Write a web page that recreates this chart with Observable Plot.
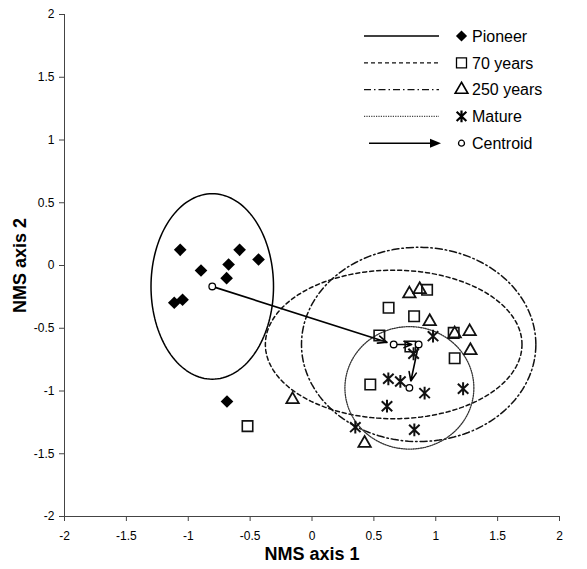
<!DOCTYPE html>
<html><head><meta charset="utf-8">
<script src="https://cdn.jsdelivr.net/npm/d3@7"></script>
<script src="https://cdn.jsdelivr.net/npm/@observablehq/plot@0.6"></script>
<style>
body{margin:0;background:#fff;font-family:"Liberation Sans",Arial,sans-serif;}
#wrap{position:relative;width:587px;height:569px;}
#legend{position:absolute;left:0;top:0;pointer-events:none;}
</style></head><body><div id="wrap"></div>
<script>
// ---- data (NMS ordination scores) ----
const groups = ["Pioneer", "70 years", "250 years", "Mature"];

const pioneerX = [-1.065, -0.585, -0.432, -0.897, -0.674, -0.690, -1.113, -1.046, -0.687];
const pioneerY = [0.125, 0.125, 0.048, -0.040, 0.008, -0.101, -0.297, -0.273, -1.084];

const yr70X = [0.930, 0.619, 0.825, 0.544, 1.145, 1.153, 0.471, 0.795, -0.521];
const yr70Y = [-0.194, -0.337, -0.404, -0.558, -0.537, -0.739, -0.948, -0.645, -1.280];

const yr250X = [0.787, 0.870, 0.951, 1.153, 1.274, 1.280, -0.157, 0.425];
const yr250Y = [-0.225, -0.191, -0.446, -0.544, -0.526, -0.677, -1.068, -1.416];

const matureX = [0.978, 0.821, 0.617, 0.714, 0.910, 1.221, 0.606, 0.350, 0.827];
const matureY = [-0.563, -0.703, -0.903, -0.924, -1.017, -0.982, -1.121, -1.288, -1.309];

const centroidX = [-0.806, 0.660, 0.862, 0.787];
const centroidY = [-0.167, -0.629, -0.629, -0.975];
const ellipseRx = [0.495, 1.037, 0.947, 0.521];
const ellipseRy = [0.739, 0.592, 0.774, 0.488];

const xTicks = [-2, -1.5, -1, -0.5, 0, 0.5, 1, 1.5, 2];
const yTicks = [-2, -1.5, -1, -0.5, 0, 0.5, 1, 1.5, 2];

// ---- build tables ----
const pts = (xs, ys) => xs.map((x, i) => ({x, y: ys[i]}));
const pioneer = pts(pioneerX, pioneerY);
const yr70 = pts(yr70X, yr70Y);
const yr250 = pts(yr250X, yr250Y);
const mature = pts(matureX, matureY);
const centroids = groups.map((g, i) => ({group: g, x: centroidX[i], y: centroidY[i]}));
const ellipses = [];
groups.forEach((g, i) => {
  const n = 144;
  for (let k = 0; k <= n; k++) {
    const a = 2 * Math.PI * k / n;
    ellipses.push({group: g, x: centroidX[i] + ellipseRx[i] * Math.cos(a), y: centroidY[i] + ellipseRy[i] * Math.sin(a)});
  }
});
const arrows = centroids.slice(0, -1).map((c, i) => ({x1: c.x, y1: c.y, x2: centroids[i + 1].x, y2: centroids[i + 1].y}));

// Excel-style asterisk: X plus vertical bar
const starX = {
  draw(context, size) {
    const r = Math.sqrt(size / Math.PI);
    const a = 0.82 * r, b = 0.78 * r;
    context.moveTo(0, -r); context.lineTo(0, r);
    context.moveTo(-a, -b); context.lineTo(a, b);
    context.moveTo(-a, b); context.lineTo(a, -b);
  }
};

const dashes = {"Pioneer": null, "70 years": "4,3", "250 years": "7,3,1.5,3", "Mature": "1.2,1.2"};
const widths = {"Pioneer": 1.5, "70 years": 1.5, "250 years": 1.5, "Mature": 1.3};
const colors = {"Pioneer": "#000", "70 years": "#111", "250 years": "#111", "Mature": "#333"};

const fmt = d => String(d);

const ellipseMarks = groups.map(g => Plot.line(ellipses.filter(d => d.group === g), {
  x: "x", y: "y", stroke: colors[g], strokeWidth: widths[g], strokeDasharray: dashes[g]
}));

const chart = Plot.plot({
  width: 587, height: 569,
  marginLeft: 64, marginRight: 28, marginTop: 14, marginBottom: 53,
  x: {domain: [-2, 2]},
  y: {domain: [-2, 2]},
  style: {fontFamily: "'Liberation Sans', Arial, sans-serif", fontSize: "12px", color: "#000", background: "#fff"},
  marks: [
    Plot.axisX({ticks: xTicks, tickFormat: fmt, tickSize: 5, tickPadding: 10, label: null, stroke: "#444", fontSize: 12}),
    Plot.axisY({ticks: yTicks, tickFormat: fmt, tickSize: 5, tickPadding: 5, label: null, stroke: "#444", fontSize: 12}),
    Plot.ruleX([xTicks[0]], {stroke: "#444", strokeWidth: 1}),
    Plot.ruleY([yTicks[0]], {stroke: "#444", strokeWidth: 1}),
    ...ellipseMarks,
    Plot.arrow(arrows, {x1: "x1", y1: "y1", x2: "x2", y2: "y2", bend: 0, stroke: "#000", strokeWidth: 1.6, headLength: 9, headAngle: 45, insetEnd: 7, insetStart: 3}),
    Plot.dot(pioneer, {x: "x", y: "y", symbol: "diamond2", r: 5.7, fill: "#000", stroke: "none"}),
    Plot.dot(yr70, {x: "x", y: "y", symbol: "square", r: 5.9, fill: "none", stroke: "#111", strokeWidth: 1.6}),
    Plot.dot(yr250, {x: "x", y: "y", symbol: "triangle", r: 4.6, fill: "none", stroke: "#111", strokeWidth: 1.8}),
    Plot.dot(mature, {x: "x", y: "y", symbol: starX, r: 6.4, fill: "none", stroke: "#111", strokeWidth: 2}),
    Plot.dot(centroids, {x: "x", y: "y", symbol: "circle", r: 3.3, fill: "#fff", stroke: "#000", strokeWidth: 1.3}),
    Plot.text(["NMS axis 1"], {frameAnchor: "bottom", lineAnchor: "middle", textAnchor: "middle", dy: 38, fontWeight: "bold", fontSize: 18}),
    Plot.text(["NMS axis 2"], {frameAnchor: "left", lineAnchor: "middle", textAnchor: "middle", rotate: -90, dx: -44, fontWeight: "bold", fontSize: 18})
  ]
});
const wrap = document.getElementById("wrap");
wrap.appendChild(chart);

// ---- legend overlay ----
const legendItems = [
  {label: "Pioneer", dash: null, sym: d3.symbolDiamond2, size: 80, fill: "#000", stroke: "none", sw: 0, lineColor: "#000", lw: 1.3},
  {label: "70 years", dash: "4,3", sym: d3.symbolSquare, size: 100, fill: "none", stroke: "#000", sw: 1.3, lineColor: "#111", lw: 1.2},
  {label: "250 years", dash: "7,3,1.5,3", sym: d3.symbolTriangle, size: 70, fill: "none", stroke: "#000", sw: 1.6, lineColor: "#111", lw: 1.2},
  {label: "Mature", dash: "1.2,1.2", sym: starX, size: 110, fill: "none", stroke: "#000", sw: 2.2, lineColor: "#444", lw: 1.2},
  {label: "Centroid", arrow: true, sym: d3.symbolCircle, size: 28, fill: "#fff", stroke: "#000", sw: 1.3, lineColor: "#000", lw: 1.5}
];
const lg = d3.select(wrap).append("svg").attr("id", "legend").attr("width", 587).attr("height", 569);
legendItems.forEach((it, i) => {
  const y = 36 + i * 26.8;
  const g = lg.append("g");
  if (it.arrow) {
    g.append("line").attr("x1", 369).attr("x2", 432).attr("y1", y).attr("y2", y).attr("stroke", "#000").attr("stroke-width", it.lw);
    g.append("path").attr("d", `M441,${y}L430,${y - 4.5}L430,${y + 4.5}Z`).attr("fill", "#000");
  } else {
    g.append("line").attr("x1", 364).attr("x2", 439).attr("y1", y).attr("y2", y)
      .attr("stroke", it.lineColor).attr("stroke-width", it.lw).attr("stroke-dasharray", it.dash);
  }
  g.append("path").attr("d", d3.symbol(it.sym, it.size)()).attr("transform", `translate(461.5,${y})`)
    .attr("fill", it.fill).attr("stroke", it.stroke).attr("stroke-width", it.sw);
  g.append("text").attr("x", 472).attr("y", y).attr("dy", "0.36em")
    .attr("font-family", "'Liberation Sans', Arial, sans-serif").attr("font-size", 16).attr("fill", "#000").text(it.label);
});
</script></body></html>
